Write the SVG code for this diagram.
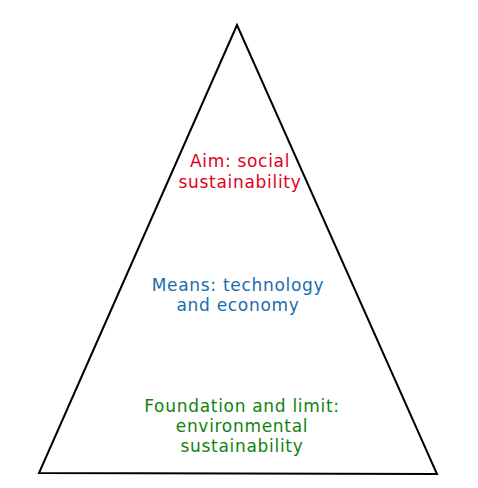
<svg xmlns="http://www.w3.org/2000/svg" width="478" height="488" viewBox="0 0 478 488">
<style>
text{font-family:"DejaVu Sans",Verdana,sans-serif;font-size:17px;letter-spacing:0.7px;text-anchor:middle}
.aim{fill:#e0001b}.means{fill:#1a6cb0}.found{fill:#128212}
</style>
<rect width="478" height="488" fill="#ffffff"/>
<g id="pyramid">
<polygon points="237,25 39,473 437,474" fill="none" stroke="#000" stroke-width="2" stroke-linejoin="miter"/>
</g>
<g id="aim">
<text class="aim" x="240" y="167">Aim: social</text>
<text class="aim" x="240" y="188">sustainability</text>
</g>
<g id="means">
<text class="means" x="238" y="291">Means: technology</text>
<text class="means" x="238" y="311">and economy</text>
</g>
<g id="foundation">
<text class="found" x="242" y="412">Foundation and limit:</text>
<text class="found" x="242" y="432">environmental</text>
<text class="found" x="242" y="452">sustainability</text>
</g>
</svg>
